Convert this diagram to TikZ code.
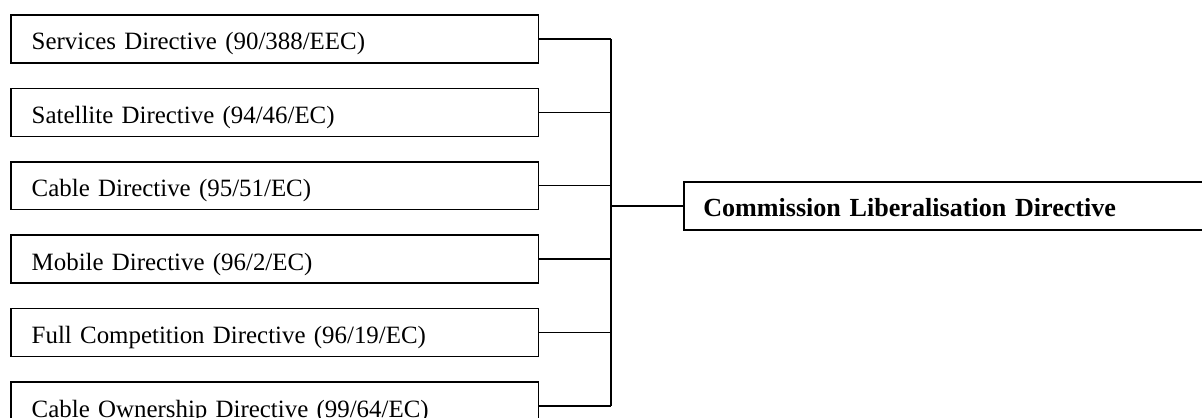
\documentclass[tikz,border=0pt]{standalone}
\usepackage{fontspec}
\setmainfont{Liberation Serif}
\usepackage{tikz}
\usetikzlibrary{positioning}

\tikzset{
	directive/.style={draw, line width=1pt, rectangle, minimum width=352pt, minimum height=32pt,
		inner xsep=14pt, inner ysep=0pt, text width=324pt, align=left,
		text height=23.2pt, text depth=8.8pt, font=\fontsize{16.6}{18}\selectfont},
	mainbox/.style={directive, minimum width=380pt, text width=354pt, inner xsep=13pt,
		font=\fontsize{17.4}{18}\selectfont\bfseries},
	link/.style={line width=1pt}
}

\begin{document}
\begin{tikzpicture}[x=0.6667pt, y=-0.6667pt]
				\useasboundingbox (0,0) rectangle (1202,417);
				% the six directives
				\node[directive, anchor=north west] (s1) at (10,14) {Services Directive (90/388/EEC)};
				\node[directive, below=16pt of s1] (s2) {Satellite Directive (94/46/EC)};
				\node[directive, below=16pt of s2] (s3) {Cable Directive (95/51/EC)};
				\node[directive, below=16pt of s3] (s4) {Mobile Directive (96/2/EC)};
				\node[directive, below=16pt of s4] (s5) {Full Competition Directive (96/19/EC)};
				\node[directive, below=16pt of s5] (s6) {Cable Ownership Directive (99/64/EC)};
				\node[mainbox, anchor=west] (clr) at (683,206) {Commission Liberalisation Directive};
				% joining lines
				\coordinate (bus) at (611,206);
				\foreach \n in {s1,s2,s3,s4,s5,s6}
					\draw[link] (\n.east) -- (\n.east -| bus);
				\draw[link] (s1.east -| bus) -- (s6.east -| bus);
				\draw[link] (bus) -- (clr.west);
			\end{tikzpicture}
\end{document}
